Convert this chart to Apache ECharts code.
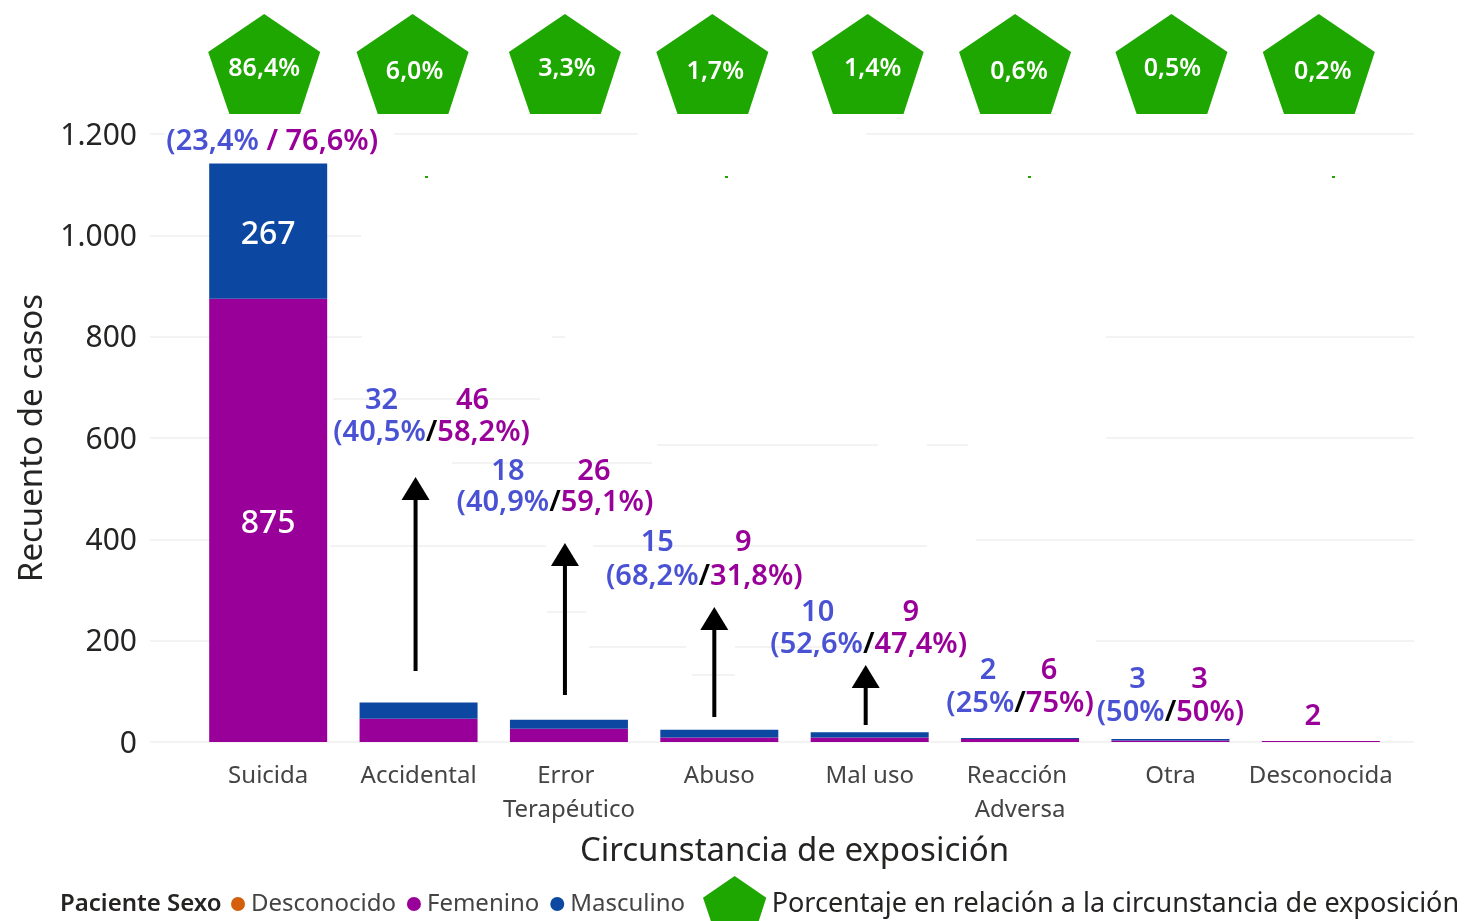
<!DOCTYPE html>
<html lang="es">
<head>
<meta charset="utf-8">
<title>Recuento de casos por circunstancia de exposición</title>
<script src="https://cdn.jsdelivr.net/npm/echarts@6/dist/echarts.min.js"></script>
<style>
  html, body { margin: 0; padding: 0; background: #fff; overflow: hidden; }
  #chart { width: 1479px; height: 921px; }
</style>
</head>
<body>
<div id="chart"></div>
<script>
// data
const categories = ['Suicida', 'Accidental', 'Error Terapéutico', 'Abuso', 'Mal uso', 'Reacción Adversa', 'Otra', 'Desconocida'];
const femenino = [875, 46, 26, 9, 9, 6, 3, 2];
const masculino = [267, 32, 18, 15, 10, 2, 3, null];
const shares = ['86,4%', '6,0%', '3,3%', '1,7%', '1,4%', '0,6%', '0,5%', '0,2%'];
const masculinoPct = ['23,4%', '40,5%', '40,9%', '68,2%', '52,6%', '25%', '50%', null];
const femeninoPct = ['76,6%', '58,2%', '59,1%', '31,8%', '47,4%', '75%', '50%', null];
const yTicks = { min: 0, max: 1200, interval: 200 };

const SHARE_NAME = 'Porcentaje en relación a la circunstancia de exposición';
const PENTAGON = 'path://M55.5 0L111 38L91 100L21 100L0 38Z';
const FONT = '"Noto Sans", sans-serif';
const PURPLE = '#990099';
const BLUE = '#0c47a1';
const NOTE_BLUE = '#4a52d4';
const GREEN = '#1ea700';
const GRID_COLOR = '#f3f3f3';

// layout: hand placed notes, px relative to category centre / axis baseline
const pentagonOffsets = [[-4, 0], [-6, 0], [-4, 0], [-7, 0], [-2, 0], [-5, 0], [1, 0], [-2, 0]];
const shareLabelOffsets = [[0, 5], [2, 8], [2, 5], [3, 8], [5, 5], [4, 8], [1, 5], [4, 8]];
const noteLayout = [
  { left: 0, right: 0, row: 4, countY: 0, rowY: -600, wide: true },
  { left: -37, right: 54, row: 13, countY: -341, rowY: -309, arrow: [-3, -265, -71] },
  { left: -61, right: 25, row: -14, countY: -270, rowY: -239, arrow: [-4, -199, -47] },
  { left: -62, right: 24, row: -15, countY: -199, rowY: -165, arrow: [-5, -135, -25] },
  { left: -52, right: 41, row: -1, countY: -129, rowY: -97, arrow: [-4, -77, -17] },
  { left: -32, right: 29, row: 0, countY: -71, rowY: -38 },
  { left: -33, right: 29, row: 0, countY: -62, rowY: -29 },
  { left: 0, right: -8, row: 0, countY: -25, rowY: 0 }
];

// the gridlines of the original are patchy: gaps painted white, [y, x0, x1]
const gridGaps = [
  [134, 165, 394], [134, 638, 866],
  [236, 361, 1414],
  [337, 362, 552], [337, 565, 1106],
  [438, 327, 1106],
  [540, 327, 976],
  [641, 327, 1096]
];
// stray bits of gridline, [y, x0, x1]
const gridBits = [
  [399, 333, 540], [445, 657, 878], [445, 927, 968], [463, 452, 652],
  [546, 330, 546], [546, 593, 927], [612, 547, 586], [647, 589, 686], [647, 735, 880], [675, 692, 735]
];
const greenSpecks = [426, 726, 1029, 1333];

function noteText(text, x, y, fill, size) {
  return {
    type: 'text',
    x: x,
    y: y,
    style: {
      text: text,
      fill: fill,
      font: `600 ${size}px ${FONT}`,
      textAlign: 'center',
      textVerticalAlign: 'middle'
    }
  };
}

function renderNote(params, api) {
  const i = api.value(0);
  const layout = noteLayout[i];
  const [cx, baseY] = api.coord([i, 0]);
  const children = [];

  if (!layout.wide) {
    if (masculino[i] > 0) {
      children.push(noteText(String(masculino[i]), cx + layout.left, baseY + layout.countY, NOTE_BLUE, 29));
    }
    children.push(noteText(String(femenino[i]), cx + layout.right, baseY + layout.countY, PURPLE, 29));
  }

  if (masculinoPct[i]) {
    const slash = layout.wide ? ' / ' : '/';
    children.push({
      type: 'text',
      x: cx + layout.row,
      y: baseY + layout.rowY,
      style: {
        text: `{m|(${masculinoPct[i]}}{${layout.wide ? 'p' : 's'}|${slash}}{p|${femeninoPct[i]})}`,
        textAlign: 'center',
        textVerticalAlign: 'middle',
        font: `600 29px ${FONT}`,
        rich: {
          m: { fill: NOTE_BLUE, font: `600 29px ${FONT}` },
          p: { fill: PURPLE, font: `600 29px ${FONT}` },
          s: { fill: '#000', font: `600 29px ${FONT}` }
        }
      }
    });
  }

  if (layout.arrow) {
    const [dx, tip, tail] = layout.arrow;
    const ax = cx + dx;
    children.push({
      type: 'rect',
      shape: { x: ax - 2, y: baseY + tip + 20, width: 4, height: tail - tip - 20 },
      style: { fill: '#000' }
    });
    children.push({
      type: 'polygon',
      shape: { points: [[ax, baseY + tip], [ax + 14, baseY + tip + 23], [ax - 14, baseY + tip + 23]] },
      style: { fill: '#000' }
    });
  }

  return { type: 'group', children: children };
}

const graphicElements = [
  ...gridGaps.map(([y, x0, x1]) => ({
    type: 'rect', z: 1, silent: true,
    shape: { x: x0, y: y - 2, width: x1 - x0, height: 4 },
    style: { fill: '#fff' }
  })),
  ...gridBits.map(([y, x0, x1]) => ({
    type: 'rect', z: 1, silent: true,
    shape: { x: x0, y: y - 1, width: x1 - x0, height: 2 },
    style: { fill: GRID_COLOR }
  })),
  ...greenSpecks.map((x) => ({
    type: 'rect', z: 1, silent: true,
    shape: { x: x - 1, y: 176, width: 3, height: 2 },
    style: { fill: GREEN }
  }))
];

const insideLabel = {
  show: true,
  position: 'inside',
  offset: [0, 4],
  color: '#fff',
  fontFamily: FONT,
  fontSize: 32,
  fontWeight: 500,
  formatter: (p) => (p.dataIndex === 0 ? String(p.value) : '')
};

const chart = echarts.init(document.getElementById('chart'));

chart.setOption({
  animation: false,
  backgroundColor: '#fff',
  textStyle: { fontFamily: FONT },
  title: {
    text: 'Paciente Sexo',
    left: 60,
    top: 892,
    padding: 0,
    textStyle: { fontFamily: FONT, fontSize: 24, fontWeight: 600, color: '#252423' }
  },
  legend: [
    {
      data: ['Desconocido', 'Femenino', 'Masculino'],
      left: 231,
      top: 892,
      padding: 0,
      icon: 'circle',
      itemWidth: 14,
      itemHeight: 14,
      itemGap: 11,
      selectedMode: false,
      textStyle: { fontFamily: FONT, fontSize: 24, color: '#444', padding: [0, 0, 0, 1] }
    },
    {
      data: [SHARE_NAME],
      left: 703,
      top: 876,
      padding: 0,
      itemWidth: 64,
      itemHeight: 57,
      selectedMode: false,
      textStyle: { fontFamily: FONT, fontSize: 27, color: '#252423' }
    }
  ],
  grid: [
    { left: 150, right: 65, top: 134, height: 608 },
    { left: 193, width: 1203, top: 134, height: 608 },
    { left: 193, width: 1203, top: 14, height: 100 }
  ],
  xAxis: [
    { gridIndex: 0, type: 'value', show: false, min: 0, max: 1 },
    {
      gridIndex: 1,
      type: 'category',
      data: categories,
      name: 'Circunstancia de exposición',
      nameLocation: 'middle',
      nameGap: 93,
      nameTextStyle: { fontFamily: FONT, fontSize: 33, color: '#252423' },
      axisLine: { show: false },
      axisTick: { show: false },
      axisLabel: {
        fontFamily: FONT,
        fontSize: 24,
        color: '#444',
        margin: 17,
        lineHeight: 34,
        width: 145,
        overflow: 'break',
        interval: 0
      }
    },
    { gridIndex: 2, type: 'category', data: categories, show: false }
  ],
  yAxis: [
    {
      gridIndex: 0,
      type: 'value',
      min: yTicks.min,
      max: yTicks.max,
      interval: yTicks.interval,
      name: 'Recuento de casos',
      nameLocation: 'middle',
      nameGap: 91,
      nameTextStyle: { fontFamily: FONT, fontSize: 33, color: '#252423' },
      axisLine: { show: false },
      axisTick: { show: false },
      axisLabel: {
        fontFamily: FONT,
        fontSize: 30,
        color: '#252423',
        margin: 13,
        verticalAlign: 'top',
        lineHeight: 4,
        formatter: (value) => (value >= 1000 ? String(value).replace(/(\d)(\d{3})$/, '$1.$2') : String(value))
      },
      splitLine: { show: true, lineStyle: { color: GRID_COLOR, width: 2 } }
    },
    { gridIndex: 1, type: 'value', show: false, min: yTicks.min, max: yTicks.max, interval: yTicks.interval, splitLine: { show: false } },
    { gridIndex: 2, type: 'value', show: false, min: 0, max: 1, splitLine: { show: false } }
  ],
  series: [
    {
      name: 'Desconocido',
      type: 'bar',
      xAxisIndex: 1,
      yAxisIndex: 1,
      stack: 'sexo',
      barWidth: 118,
      data: [],
      itemStyle: { color: '#d35f0a' }
    },
    {
      name: 'Femenino',
      type: 'bar',
      xAxisIndex: 1,
      yAxisIndex: 1,
      stack: 'sexo',
      barWidth: 118,
      data: femenino,
      itemStyle: { color: PURPLE },
      label: insideLabel
    },
    {
      name: 'Masculino',
      type: 'bar',
      xAxisIndex: 1,
      yAxisIndex: 1,
      stack: 'sexo',
      barWidth: 118,
      data: masculino,
      itemStyle: { color: BLUE },
      label: insideLabel
    },
    {
      name: SHARE_NAME,
      type: 'scatter',
      xAxisIndex: 2,
      yAxisIndex: 2,
      symbol: PENTAGON,
      symbolSize: [112, 100],
      itemStyle: { color: GREEN, opacity: 1 },
      silent: true,
      data: shares.map((share, i) => ({
        value: [i, 0.5],
        symbolOffset: pentagonOffsets[i],
        label: {
          show: true,
          position: 'inside',
          formatter: share,
          offset: shareLabelOffsets[i],
          color: '#fff',
          fontFamily: FONT,
          fontSize: 25,
          fontWeight: 600
        }
      }))
    },
    {
      name: 'notas',
      type: 'custom',
      xAxisIndex: 1,
      yAxisIndex: 1,
      silent: true,
      clip: false,
      z: 5,
      renderItem: renderNote,
      data: categories.map((_, i) => [i, 0])
    }
  ],
  graphic: { elements: graphicElements }
});

window.addEventListener('resize', () => chart.resize());
</script>
</body>
</html>
